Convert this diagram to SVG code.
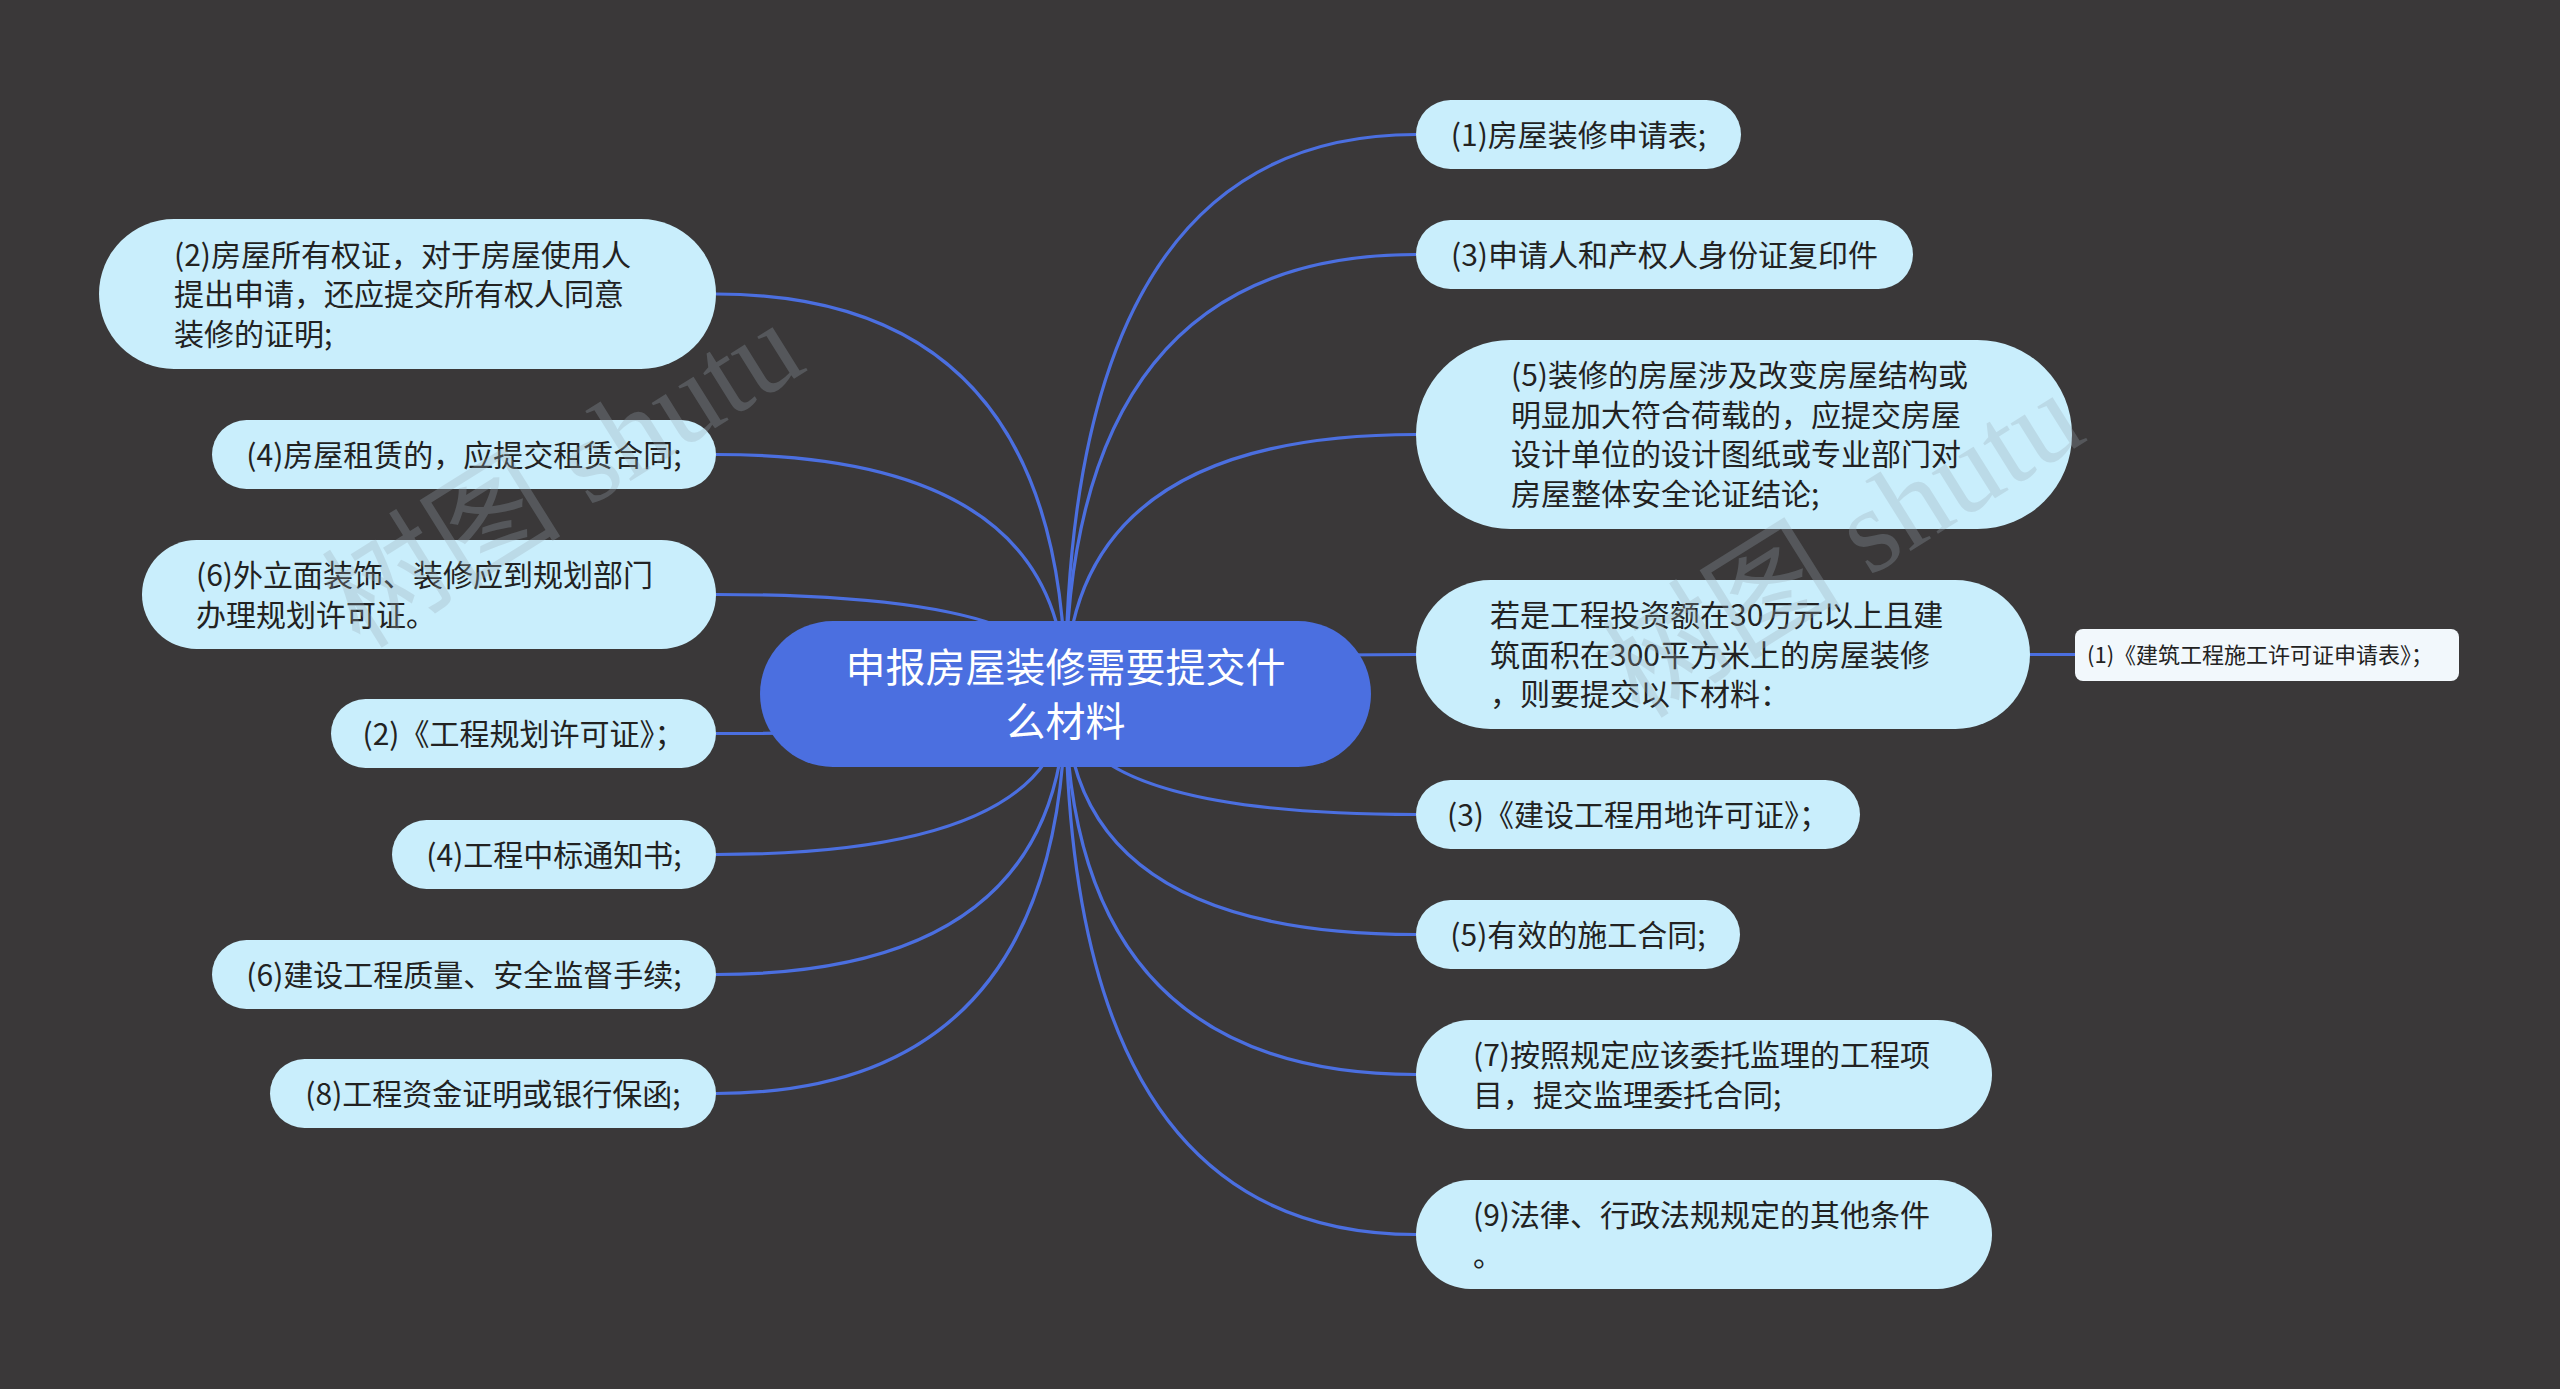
<svg xmlns="http://www.w3.org/2000/svg" width="2560" height="1389" viewBox="0 0 2560 1389">
<style>
.bg{fill:#3a3839}
.edge{fill:none;stroke:#4b6fe0;stroke-width:3.2}
.node{fill:#c9eefc}
.leaf{fill:#f2f8fc}
.root{fill:#4b6fe0}
.t{font-family:"Noto Sans CJK SC","Noto Sans",sans-serif;font-size:30px;fill:#222}
.tc{font-family:"Noto Sans CJK SC","Noto Sans",sans-serif;font-size:30px;fill:#222;text-anchor:middle}
.ts{font-family:"Noto Sans CJK SC","Noto Sans",sans-serif;font-size:22px;fill:#222}
.rt{font-family:"Noto Sans CJK SC","Noto Sans",sans-serif;font-size:40px;fill:#ffffff;text-anchor:middle}
.wm{font-family:"Liberation Serif","Noto Sans CJK SC",serif;font-size:120px;fill:#9aa8b2;opacity:0.28}
</style>
<rect class="bg" x="0" y="0" width="2560" height="1389"/>
<g id="connectors">
<path class="edge" d="M1065.5 694 Q1065.5 134.5 1416 134.5"/>
<path class="edge" d="M1065.5 694 Q1065.5 254.5 1416 254.5"/>
<path class="edge" d="M1065.5 694 Q1065.5 434.5 1416 434.5"/>
<path class="edge" d="M1065.5 694 Q1065.5 654.5 1416 654.5"/>
<path class="edge" d="M1065.5 694 Q1065.5 814.5 1416 814.5"/>
<path class="edge" d="M1065.5 694 Q1065.5 934.5 1416 934.5"/>
<path class="edge" d="M1065.5 694 Q1065.5 1074.5 1416 1074.5"/>
<path class="edge" d="M1065.5 694 Q1065.5 1234.5 1416 1234.5"/>
<path class="edge" d="M1065.5 694 Q1065.5 294 716 294"/>
<path class="edge" d="M1065.5 694 Q1065.5 454.5 716 454.5"/>
<path class="edge" d="M1065.5 694 Q1065.5 594.5 716 594.5"/>
<path class="edge" d="M1065.5 694 Q1065.5 733.5 716 733.5"/>
<path class="edge" d="M1065.5 694 Q1065.5 854.5 716 854.5"/>
<path class="edge" d="M1065.5 694 Q1065.5 974.5 716 974.5"/>
<path class="edge" d="M1065.5 694 Q1065.5 1093.5 716 1093.5"/>
<path class="edge" d="M2030 654.5 L2075 654.5"/>
</g>
<g id="root">
<rect class="root" x="760" y="621" width="611" height="146" rx="73"/>
<text class="rt" x="1065.5" y="682">申报房屋装修需要提交什</text>
<text class="rt" x="1065.5" y="736">么材料</text>
</g>
<g id="L1">
<rect class="node" x="99" y="219" width="617" height="150" rx="75"/>
<text class="t" x="174" y="265.5">(2)房屋所有权证，对于房屋使用人</text>
<text class="t" x="174" y="305">提出申请，还应提交所有权人同意</text>
<text class="t" x="174" y="344.5">装修的证明;</text>
</g>
<g id="L2">
<rect class="node" x="212" y="420" width="504" height="69" rx="34.5"/>
<text class="tc" x="464" y="465.5">(4)房屋租赁的，应提交租赁合同;</text>
</g>
<g id="L3">
<rect class="node" x="142" y="540" width="574" height="109" rx="54.5"/>
<text class="t" x="196" y="586">(6)外立面装饰、装修应到规划部门</text>
<text class="t" x="196" y="625.5">办理规划许可证。</text>
</g>
<g id="L4">
<rect class="node" x="331" y="699" width="385" height="69" rx="34.5"/>
<text class="tc" x="523.5" y="744.5">(2)《工程规划许可证》；</text>
</g>
<g id="L5">
<rect class="node" x="392" y="820" width="324" height="69" rx="34.5"/>
<text class="tc" x="554" y="865.5">(4)工程中标通知书;</text>
</g>
<g id="L6">
<rect class="node" x="212" y="940" width="504" height="69" rx="34.5"/>
<text class="tc" x="464" y="985.5">(6)建设工程质量、安全监督手续;</text>
</g>
<g id="L7">
<rect class="node" x="270" y="1059" width="446" height="69" rx="34.5"/>
<text class="tc" x="493" y="1104.5">(8)工程资金证明或银行保函;</text>
</g>
<g id="R1">
<rect class="node" x="1416" y="100" width="325" height="69" rx="34.5"/>
<text class="tc" x="1578.5" y="145.5">(1)房屋装修申请表;</text>
</g>
<g id="R2">
<rect class="node" x="1416" y="220" width="497" height="69" rx="34.5"/>
<text class="tc" x="1664.5" y="265.5">(3)申请人和产权人身份证复印件</text>
</g>
<g id="R3">
<rect class="node" x="1416" y="340" width="656" height="189" rx="94.5"/>
<text class="t" x="1511" y="386">(5)装修的房屋涉及改变房屋结构或</text>
<text class="t" x="1511" y="425.5">明显加大符合荷载的，应提交房屋</text>
<text class="t" x="1511" y="465">设计单位的设计图纸或专业部门对</text>
<text class="t" x="1511" y="504.5">房屋整体安全论证结论;</text>
</g>
<g id="R4">
<rect class="node" x="1416" y="580" width="614" height="149" rx="74.5"/>
<text class="t" x="1490" y="626">若是工程投资额在30万元以上且建</text>
<text class="t" x="1490" y="665.5">筑面积在300平方米上的房屋装修</text>
<text class="t" x="1490" y="705">，则要提交以下材料：</text>
</g>
<g id="R4a">
<rect class="leaf" x="2075" y="629" width="384" height="52" rx="8"/>
<text class="ts" x="2087" y="663">(1)《建筑工程施工许可证申请表》；</text>
</g>
<g id="R5">
<rect class="node" x="1416" y="780" width="444" height="69" rx="34.5"/>
<text class="tc" x="1638" y="825.5">(3)《建设工程用地许可证》；</text>
</g>
<g id="R6">
<rect class="node" x="1416" y="900" width="324" height="69" rx="34.5"/>
<text class="tc" x="1578" y="945.5">(5)有效的施工合同;</text>
</g>
<g id="R7">
<rect class="node" x="1416" y="1020" width="576" height="109" rx="54.5"/>
<text class="t" x="1473" y="1066">(7)按照规定应该委托监理的工程项</text>
<text class="t" x="1473" y="1105.5">目，提交监理委托合同;</text>
</g>
<g id="R8">
<rect class="node" x="1416" y="1180" width="576" height="109" rx="54.5"/>
<text class="t" x="1473" y="1226">(9)法律、行政法规规定的其他条件</text>
<text class="t" x="1473" y="1265.5">。</text>
</g>
<g id="watermark">
<text class="wm" x="0" y="0" transform="translate(360 650) rotate(-32)">树图 shutu</text>
<text class="wm" x="0" y="0" transform="translate(1640 720) rotate(-32)">树图 shutu</text>
</g>
</svg>
